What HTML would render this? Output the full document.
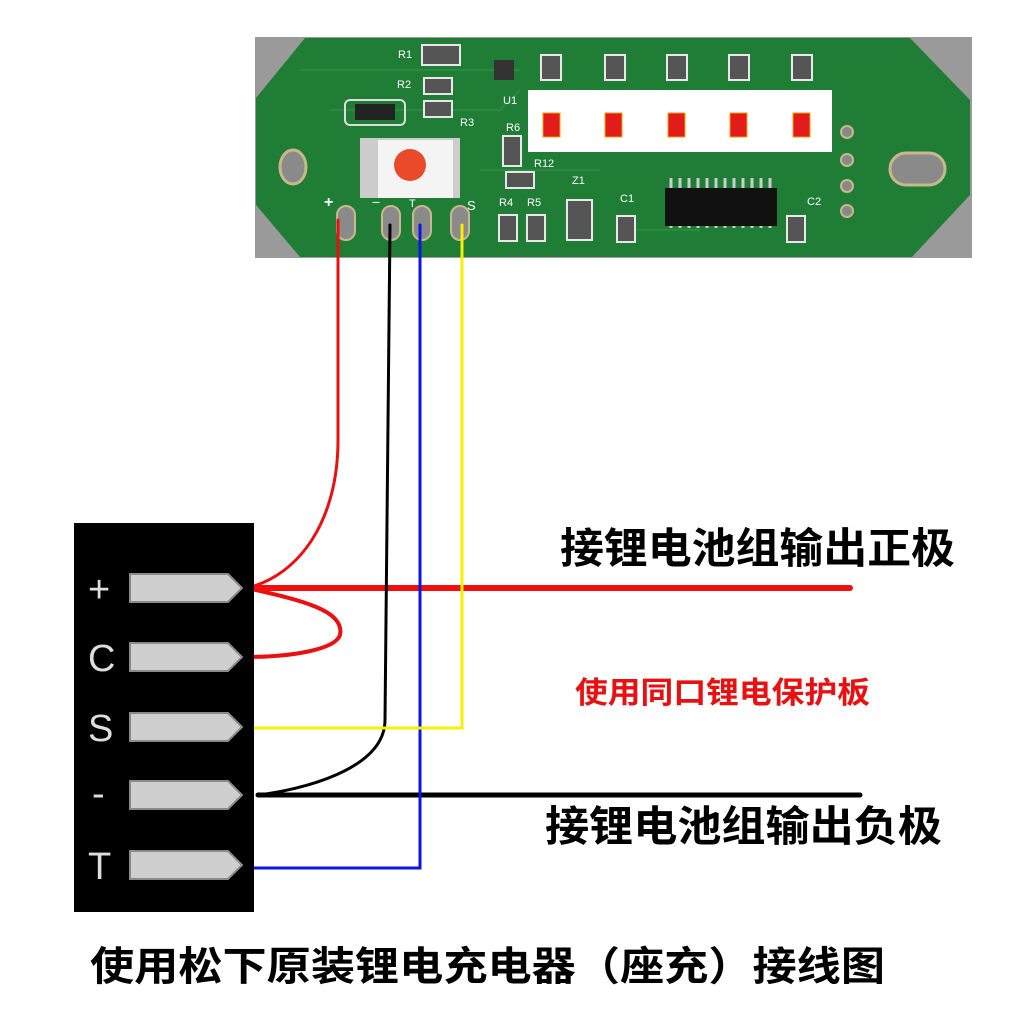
<!DOCTYPE html>
<html><head><meta charset="utf-8"><style>
html,body{margin:0;padding:0;background:#fff;width:1024px;height:1024px;overflow:hidden}
svg{display:block}
.cj{font-family:"Liberation Sans","Noto Sans CJK SC",sans-serif;font-weight:bold}
</style></head><body>
<svg width="1024" height="1024" viewBox="0 0 1024 1024" xmlns="http://www.w3.org/2000/svg">
<rect width="1024" height="1024" fill="#fff"/>
<!-- PCB -->
<rect x="255" y="37" width="717" height="221" fill="#9a9a9a"/>
<polygon points="305,38 910,38 970,100 970,195 912,257 300,257 256,205 256,98" fill="#1f7d36"/>
<g fill="none" stroke="#2d8f44" stroke-width="1.5">
<path d="M300,70 L520,70 M330,110 L500,110 L520,90 M480,170 L600,170 M620,230 L700,230"/>
</g>
<ellipse cx="293" cy="167" rx="13" ry="17" fill="#8a8a8a" stroke="#c9b88a" stroke-width="3"/>
<rect x="890" y="153" width="55" height="32" rx="16" fill="#8a8a8a" stroke="#c9b88a" stroke-width="3"/>
<!-- white LED strip -->
<rect x="528" y="90" width="304" height="62" fill="#fff"/>
<g fill="#e21b1b" stroke="#f0a000" stroke-width="1">
<rect x="543" y="113" width="17" height="24"/><rect x="605" y="113" width="17" height="24"/><rect x="668" y="113" width="17" height="24"/><rect x="730" y="113" width="17" height="24"/><rect x="793" y="113" width="17" height="24"/>
</g>
<!-- resistors top -->
<g fill="#555" stroke="#e8e8e8" stroke-width="2">
<rect x="541" y="55" width="20" height="25"/><rect x="605" y="55" width="20" height="25"/><rect x="667" y="55" width="20" height="25"/><rect x="729" y="55" width="20" height="25"/><rect x="792" y="55" width="20" height="25"/>
<rect x="422" y="45" width="38" height="20"/><rect x="424" y="78" width="28" height="16"/><rect x="424" y="101" width="28" height="16"/>
<rect x="503" y="136" width="18" height="30"/><rect x="506" y="172" width="28" height="16"/>
<rect x="499" y="215" width="18" height="26"/><rect x="527" y="215" width="18" height="26"/>
<rect x="567" y="200" width="25" height="40"/>
<rect x="617" y="216" width="18" height="26"/><rect x="787" y="216" width="18" height="26"/>
</g>
<rect x="345" y="100" width="60" height="25" fill="none" stroke="#ddd" stroke-width="2" rx="5"/>
<rect x="355" y="104" width="40" height="16" fill="#222"/>
<rect x="494" y="60" width="20" height="20" fill="#333"/>
<!-- chip -->
<g stroke="#ccc" stroke-width="3">
<path d="M671,178v50M680,178v50M689,178v50M698,178v50M707,178v50M716,178v50M725,178v50M734,178v50M743,178v50M752,178v50M761,178v50M770,178v50"/>
</g>
<rect x="665" y="188" width="112" height="38" fill="#111"/>
<!-- button -->
<rect x="360" y="138" width="100" height="60" fill="#ccc"/>
<rect x="378" y="140" width="75" height="58" fill="#f4f4f4"/>
<circle cx="410" cy="165" r="16" fill="#e84a2a"/>
<!-- right holes -->
<g fill="#888" stroke="#c9b88a" stroke-width="2"><circle cx="847" cy="132" r="6"/><circle cx="847" cy="160" r="6"/><circle cx="847" cy="186" r="6"/><circle cx="847" cy="211" r="6"/></g>
<!-- pads -->
<g fill="#8a8a8a" stroke="#c9b88a" stroke-width="2">
<rect x="337" y="206" width="18" height="34" rx="9"/><rect x="382" y="206" width="18" height="34" rx="9"/><rect x="413" y="206" width="18" height="34" rx="9"/><rect x="451" y="206" width="18" height="34" rx="9"/>
</g>
<g font-family="Liberation Sans,sans-serif" fill="#fff" font-size="11">
<text x="398" y="58">R1</text><text x="397" y="88">R2</text><text x="460" y="126">R3</text><text x="506" y="131">R6</text><text x="534" y="167">R12</text>
<text x="499" y="206">R4</text><text x="527" y="206">R5</text><text x="572" y="184">Z1</text><text x="620" y="202">C1</text><text x="807" y="205">C2</text><text x="503" y="104">U1</text>
<text x="324" y="207" font-size="16" font-weight="bold">+</text><text x="372" y="207" font-size="14">−</text><text x="409" y="207">T</text><text x="467" y="210" font-size="13">S</text>
</g>
<!-- wires -->
<g fill="none" stroke-linecap="round">
<path d="M338,220 L338,440 C338,520 300,575 247,588" stroke="#e81010" stroke-width="3"/>
<path d="M247,588 C300,600 345,610 340,635 C335,650 290,657 245,657" stroke="#e81010" stroke-width="4"/>
<path d="M247,588 L850,588" stroke="#f01010" stroke-width="6"/>
<path d="M390,225 L385,720 C385,770 300,790 258,795" stroke="#000" stroke-width="3"/>
<path d="M258,795 L860,795" stroke="#000" stroke-width="5"/>
<path d="M420,225 L420,868 L240,868" stroke="#0b16e0" stroke-width="3"/>
<path d="M462,225 L462,728 L240,728" stroke="#f5f000" stroke-width="3"/>
</g>
<!-- connector -->
<rect x="74" y="523" width="180" height="389" fill="#000"/>
<g fill="#cfcfcf" stroke="#8a8a8a" stroke-width="2">
<polygon points="130,574 228,574 242,588 228,602 130,602"/>
<polygon points="130,643 228,643 242,657 228,671 130,671"/>
<polygon points="130,713 228,713 242,727 228,741 130,741"/>
<polygon points="130,781 228,781 242,795 228,809 130,809"/>
<polygon points="130,851 228,851 242,865 228,879 130,879"/>
</g>
<g font-family="Liberation Sans,sans-serif" fill="#ddd" font-size="38">
<text x="88" y="602">+</text><text x="88" y="671">C</text><text x="88" y="741">S</text><text x="92" y="806">-</text><text x="88" y="879">T</text>
</g>
<!-- texts -->
<text class="cj" x="560" y="563" font-size="42" textLength="395" lengthAdjust="spacingAndGlyphs" fill="#000">接锂电池组输出正极</text>
<text class="cj" x="575" y="703" font-size="30" textLength="295" lengthAdjust="spacingAndGlyphs" fill="#e81010">使用同口锂电保护板</text>
<text class="cj" x="545" y="841" font-size="42" textLength="397" lengthAdjust="spacingAndGlyphs" fill="#000">接锂电池组输出负极</text>
<text class="cj" x="90" y="980" font-size="40" textLength="795" lengthAdjust="spacingAndGlyphs" fill="#000">使用松下原装锂电充电器（座充）接线图</text>
</svg>
</body></html>
